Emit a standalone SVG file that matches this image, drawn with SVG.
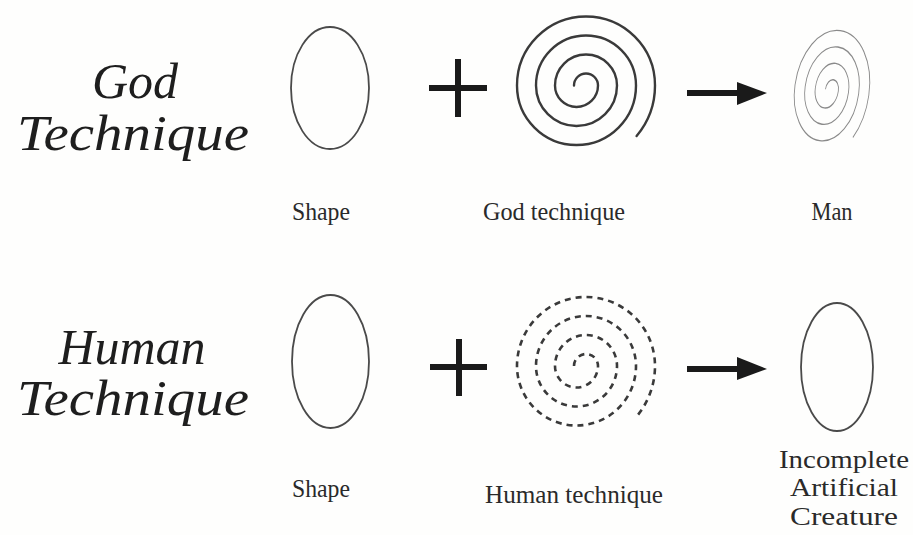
<svg xmlns="http://www.w3.org/2000/svg" width="913" height="535" viewBox="0 0 913 535" font-family="Liberation Serif, Times New Roman, serif">
<defs>
<style>
.title{font-style:italic;font-size:50px;fill:#1e1e1e;text-anchor:middle}
.lbl{font-size:26px;fill:#2a2a2a;text-anchor:middle}
.shape{fill:none;stroke:#4a4a4a;stroke-width:1.8}
.op{stroke:#1a1a1a;stroke-width:6;fill:none}
.spiral{fill:none;stroke:#3a3a3a;stroke-width:2.4;stroke-linecap:round}
.dash{fill:none;stroke:#3a3a3a;stroke-width:2.6;stroke-dasharray:6 5}
.thin{fill:none;stroke:#8a8a8a;stroke-width:1.6}
</style>
<path id="sp" d="M574,85.5 A12,12 0 0 1 598,85.5 A21.5,21.5 0 0 1 555,85.5 A31,31 0 0 1 617,85.5 A40.5,40.5 0 0 1 536,85.5 A50,50 0 0 1 636,85.5 A59.5,59.5 0 0 1 517,85.5 A69,69 0 0 1 655,85.5 A78.5,78.5 0 0 1 636.6,136"/>
</defs>
<rect width="913" height="535" fill="#fefefd"/>

<g id="god-title">
<text class="title" x="135" y="98">God</text>
<text class="title" x="133" y="150" textLength="232" lengthAdjust="spacingAndGlyphs">Technique</text>
</g>
<g id="human-title">
<text class="title" x="132" y="364">Human</text>
<text class="title" x="133" y="415" textLength="232" lengthAdjust="spacingAndGlyphs">Technique</text>
</g>

<g id="shape-top">
<ellipse class="shape" cx="330" cy="88" rx="39" ry="61"/>
<text class="lbl" x="321" y="220" textLength="58" lengthAdjust="spacingAndGlyphs">Shape</text>
</g>
<g id="god-technique">
<use href="#sp" class="spiral"/>
<text class="lbl" x="554" y="220" textLength="142" lengthAdjust="spacingAndGlyphs">God technique</text>
</g>
<g id="man">
<use href="#sp" class="thin" transform="translate(832.5,86) rotate(8) scale(0.54,0.87) translate(-586,-80.75)" style="vector-effect:non-scaling-stroke"/>
<text class="lbl" x="832" y="220" textLength="41" lengthAdjust="spacingAndGlyphs">Man</text>
</g>

<g id="shape-bottom">
<ellipse class="shape" cx="330.5" cy="361.5" rx="38.5" ry="66.5"/>
<text class="lbl" x="321" y="497" textLength="58" lengthAdjust="spacingAndGlyphs">Shape</text>
</g>
<g id="human-technique">
<use href="#sp" class="dash" transform="translate(0,280.5)"/>
<text class="lbl" x="574" y="503" textLength="178" lengthAdjust="spacingAndGlyphs">Human technique</text>
</g>
<g id="creature">
<ellipse class="shape" cx="837" cy="367" rx="36" ry="64"/>
<text class="lbl" x="844" y="468" textLength="130" lengthAdjust="spacingAndGlyphs">Incomplete</text>
<text class="lbl" x="844" y="496" textLength="108" lengthAdjust="spacingAndGlyphs">Artificial</text>
<text class="lbl" x="844" y="525" textLength="108" lengthAdjust="spacingAndGlyphs">Creature</text>
</g>

<g id="connectors">
<path class="op" d="M429,88 H487 M458,59 V117"/>
<path class="op" d="M430,367 H487 M459,339 V396"/>
<path class="op" d="M687,93 H740"/>
<path d="M737,82 L767,93 L737,105 Z" fill="#1a1a1a"/>
<path class="op" d="M687,369 H740"/>
<path d="M737,357 L767,369 L737,380 Z" fill="#1a1a1a"/>
</g>
</svg>
